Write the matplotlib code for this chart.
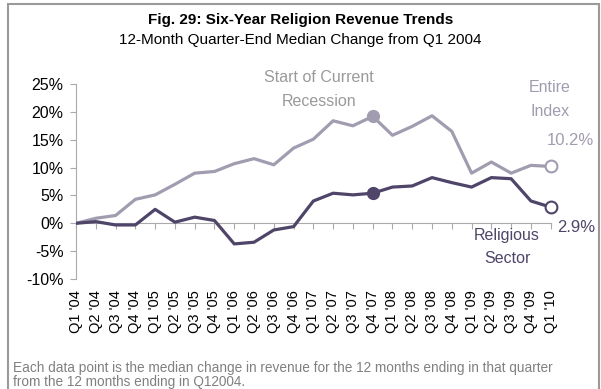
import matplotlib.pyplot as plt
from matplotlib.patches import Rectangle

plt.rcParams['font.family'] = ['Liberation Sans', 'DejaVu Sans']

# quarter labels, Q1 '04 .. Q1 '10
quarters = ["Q%d '%02d" % (q, y) for y in range(4, 11) for q in range(1, 5)][:25]

# 12-month median revenue change vs Q1 2004, in percent
entire_index = [0.0, 0.9, 1.4, 4.3, 5.1, 7.0, 9.0, 9.3, 10.7, 11.6, 10.5, 13.5,
                15.1, 18.4, 17.5, 19.2, 15.8, 17.4, 19.3, 16.5, 9.0, 11.0, 9.0,
                10.4, 10.2]
religious = [0.0, 0.3, -0.3, -0.3, 2.5, 0.2, 1.1, 0.5, -3.7, -3.4, -1.2, -0.6,
             4.0, 5.4, 5.1, 5.4, 6.5, 6.7, 8.2, 7.3, 6.5, 8.2, 8.0, 4.0, 2.9]

recession_idx = 15  # Q4 '07
yticks = [-10, -5, 0, 5, 10, 15, 20, 25]

footnote = ['Each data point is the median change in revenue for the 12 months '
            'ending in that quarter',
            'from the 12 months ending in Q12004.']

light = '#a29cb0'
dark = '#4f4569'

fig = plt.figure(figsize=(6.01, 3.89), dpi=100)
ax = fig.add_axes([0.1265, 0.2828, 0.7898, 0.5012])

x = list(range(len(quarters)))
ax.plot(x, entire_index, color=light, lw=2.3, solid_joinstyle='round', zorder=3)
ax.plot(x, religious, color=dark, lw=2.3, solid_joinstyle='round', zorder=3)

# start of recession markers
ax.plot(x[recession_idx], entire_index[recession_idx], 'o', ms=8.5, color=light, zorder=4)
ax.plot(x[recession_idx], religious[recession_idx], 'o', ms=8.5, color=dark, zorder=4)
# latest values
ax.plot(x[-1], entire_index[-1], 'o', ms=8.5, mfc='white', mec=light, mew=1.5,
        zorder=4, clip_on=False)
ax.plot(x[-1], religious[-1], 'o', ms=8.5, mfc='white', mec=dark, mew=1.5,
        zorder=4, clip_on=False)

ax.set_xlim(0, len(quarters) - 1)
ax.set_ylim(-10, 25)
ax.set_yticks(yticks)
ax.set_yticklabels(['%d%%' % v for v in yticks], fontsize=11.5)
ax.tick_params(axis='y', length=4, color='#aaaaaa', pad=5)

# zero line carries the tick marks, labels sit at the bottom
for s in ['top', 'right']:
    ax.spines[s].set_visible(False)
ax.spines['left'].set_color('#aaaaaa')
ax.spines['bottom'].set_position(('data', 0))
ax.spines['bottom'].set_color('#aaaaaa')
ax.set_xticks(x)
ax.set_xticklabels([])
ax.tick_params(axis='x', length=4, color='#aaaaaa', direction='out')

sec = ax.secondary_xaxis(0.0)
sec.set_xticks(x)
sec.set_xticklabels(quarters, rotation=90, fontsize=10.5)
sec.tick_params(length=0, pad=8)
sec.spines['bottom'].set_visible(False)

fig.text(0.5, 0.948, 'Fig. 29: Six-Year Religion Revenue Trends', ha='center',
         va='center', fontsize=11, fontweight='bold')
fig.text(0.5, 0.897, '12-Month Quarter-End Median Change from Q1 2004', ha='center',
         va='center', fontsize=11)

ax.text(12.3, 24.05, 'Start of Current\nRecession', color='#9a9a9a', fontsize=11.5,
        ha='center', va='center', linespacing=1.75, clip_on=False)
ax.text(23.95, 22.2, 'Entire\nIndex', color=light, fontsize=11.5, ha='center',
        va='center', linespacing=1.7, clip_on=False)
ax.text(25.0, 14.8, '%.1f%%' % entire_index[-1], color=light, fontsize=12,
        ha='center', va='center', clip_on=False)
ax.text(24.3, -0.7, '%.1f%%' % religious[-1], color=dark, fontsize=12,
        ha='left', va='center', clip_on=False)
ax.text(21.8, -4.3, 'Religious\nSector', color=dark, fontsize=11.5, ha='center',
        va='center', linespacing=1.7)

# footnote, one text per line
fig.text(0.022, 1 - 372 / 389, footnote[0], color='#808080', fontsize=9.8,
         ha='left', va='baseline')
fig.text(0.022, 1 - 386 / 389, footnote[1], color='#808080', fontsize=9.8,
         ha='left', va='baseline')

# outer frame
fig.patches.append(Rectangle((0.013, -0.01), 0.983, 0.999, transform=fig.transFigure,
                             fill=False, ec='#9a9a9a', lw=1.5))

fig.savefig('out.png', dpi=100)
